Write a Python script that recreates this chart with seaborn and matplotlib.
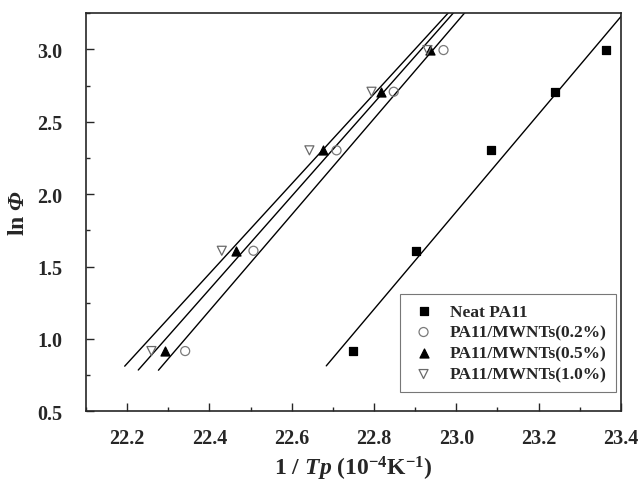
import numpy as np
import pandas as pd
import matplotlib
matplotlib.use("Agg")
import matplotlib.pyplot as plt
from matplotlib.ticker import MultipleLocator
import seaborn as sns

# ---- data ----
ln_phi = [0.916, 1.609, 2.303, 2.708, 2.996]
x_neat = [22.749, 22.901, 23.084, 23.240, 23.364]
x_02 = [22.341, 22.507, 22.709, 22.848, 22.969]
x_05 = [22.292, 22.464, 22.675, 22.818, 22.937]
x_10 = [22.259, 22.430, 22.643, 22.794, 22.930]
series_names = ["Neat PA11", "PA11/MWNTs(0.2%)", "PA11/MWNTs(0.5%)", "PA11/MWNTs(1.0%)"]
x_ticks = [22.2, 22.4, 22.6, 22.8, 23.0, 23.2, 23.4]
y_ticks = [0.5, 1.0, 1.5, 2.0, 2.5, 3.0]

sns.set_style("ticks")
plt.rcParams['font.family'] = ['Liberation Serif', 'DejaVu Serif']
plt.rcParams['font.weight'] = 'bold'
plt.rcParams['axes.labelweight'] = 'bold'
plt.rcParams['mathtext.fontset'] = 'custom'
plt.rcParams['mathtext.rm'] = 'Liberation Serif:weight=bold'
plt.rcParams['mathtext.bf'] = 'Liberation Serif:weight=bold'
plt.rcParams['mathtext.it'] = 'Liberation Serif:style=italic:weight=bold'
plt.rcParams['mathtext.sf'] = 'Liberation Serif:style=italic:weight=bold'

fig = plt.figure(figsize=(6.42, 4.85), dpi=100)
ax = fig.add_axes([0.134, 0.150, 0.833, 0.8205])

xs = [x_neat, x_02, x_05, x_10]
rows = []
for name, xv in zip(series_names, xs):
    for a, b in zip(xv, ln_phi):
        rows.append({"x": a, "y": b, "series": name})
df = pd.DataFrame(rows)

# fitted lines
line_rows = []
for name, xv in zip(series_names, xs):
    k, c = np.polyfit(xv, ln_phi, 1)
    x0 = min(xv) - 0.065
    x1 = max(xv) + 0.12
    for xx in (x0, x1):
        line_rows.append({"x": xx, "y": k * xx + c, "series": name})
ldf = pd.DataFrame(line_rows)
for name in series_names:
    sub = ldf[ldf.series == name]
    sns.lineplot(data=sub, x="x", y="y", ax=ax, color="black", lw=1.0,
                 legend=False, sort=False)

markers = {series_names[0]: "s", series_names[1]: "o",
           series_names[2]: "^", series_names[3]: "v"}
faces = {series_names[0]: "black", series_names[1]: "none",
         series_names[2]: "black", series_names[3]: "none"}
edges = {series_names[0]: "black", series_names[1]: "#7a7a7a",
         series_names[2]: "black", series_names[3]: "#6a6a6a"}
sizes = {series_names[0]: 30, series_names[1]: 42,
         series_names[2]: 42, series_names[3]: 42}
for name in series_names:
    sub = df[df.series == name]
    ax.scatter(sub.x, sub.y, marker=markers[name], s=sizes[name],
               facecolors=faces[name], edgecolors=edges[name],
               linewidths=0.9, label=name, zorder=3)

ax.set_xlim(22.1, 23.4)
ax.set_ylim(0.5, 3.25)
ax.set_xticks(x_ticks)
ax.set_yticks(y_ticks)
ax.xaxis.set_minor_locator(MultipleLocator(0.1))
ax.yaxis.set_minor_locator(MultipleLocator(0.25))
ax.set_xticklabels([f"{v:.1f}" for v in x_ticks], fontsize=14.5, fontweight='bold')
ax.set_yticklabels([f"{v:.1f}" for v in y_ticks], fontsize=14.5, fontweight='bold')
ax.tick_params(which='major', direction='in', length=6, width=1, top=False, right=False)
ax.tick_params(which='minor', direction='in', length=3, width=1, top=False, right=False)
ax.tick_params(axis='x', which='major', pad=12)
ax.tick_params(axis='y', which='major', pad=17)
for s in ax.spines.values():
    s.set_linewidth(1.2)
    s.set_visible(True)

ax.set_xlabel(r"$\mathit{1\ /\ Tp}$ (10$^{\mathrm{-4}}$K$^{\mathrm{-1}}$)", fontsize=17,
              fontweight='bold', labelpad=4)
ax.set_ylabel(r"ln $\mathsf{Φ}$", fontsize=17, fontweight='bold', labelpad=6)

leg = ax.legend(loc="lower right", bbox_to_anchor=(0.991, 0.048), borderaxespad=0,
                frameon=True, fancybox=False, edgecolor="#555555",
                prop={'family': 'Liberation Serif', 'weight': 'bold', 'size': 12.5},
                handlelength=1.6, handletextpad=0.7, borderpad=0.55,
                labelspacing=0.28, markerscale=1.0)
leg.get_frame().set_linewidth(0.8)

fig.savefig("out.png", dpi=100)
